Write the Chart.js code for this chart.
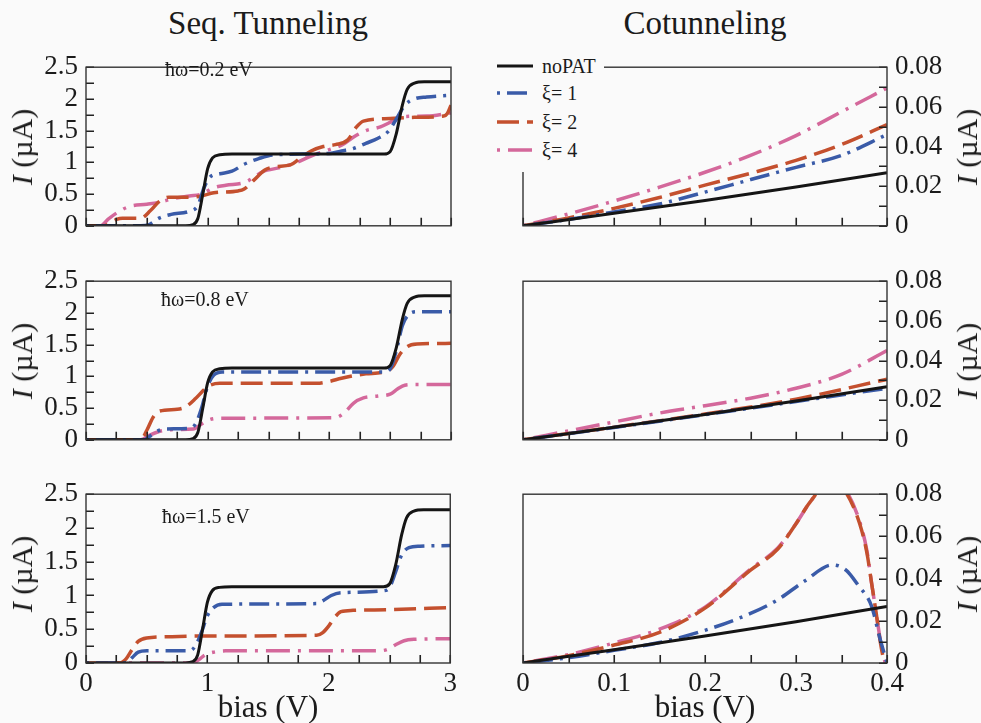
<!DOCTYPE html>
<html lang="en">
<head>
  <meta charset="UTF-8">
  <title>Seq. Tunneling / Cotunneling</title>
  <script src="https://cdn.jsdelivr.net/npm/chart.js@4"></script>
  <style>
    :root {
      --ink: #1b1b1b;
      --bg: #fafafa;
    }
    * { box-sizing: border-box; margin: 0; padding: 0; }
    body {
      background: var(--bg);
      color: var(--ink);
      font-family: 'Liberation Serif', 'DejaVu Serif', serif;
    }
    #fig { position: relative; width: 981px; height: 723px; overflow: hidden; }
    #fig canvas { position: absolute; }
    .txt { position: absolute; white-space: nowrap; line-height: 1; }
    .col-title { font-size: 33px; top: 7px; transform: translateX(-50%); }
    .ytitle { font-size: 30px; transform: translate(-50%, -50%) rotate(-90deg); }
    .xtitle { font-size: 31px; top: 691px; transform: translateX(-50%); }
    .note { font-size: 20px; }
    #legend {
      position: absolute; left: 490px; top: 48px; width: 114px; height: 124px;
      background: var(--bg); font-size: 20px;
    }
    #legend .row { position: absolute; left: 7px; height: 20px; display: flex; align-items: center; }
    #legend svg { display: block; margin-right: 9px; }
  </style>
</head>
<body>
<div id="fig">
  <div class="txt col-title" style="left:268px">Seq. Tunneling</div>
  <div class="txt col-title" style="left:705px">Cotunneling</div>
</div>
<script>
  // ---- bias (V) / current (µA) pairs, one array per curve ----
  const seqNoPAT = [[0,0],[0.82,0],[0.88,0.02],[0.92,0.12],[0.96,0.5],[1.0,0.9],[1.04,1.07],[1.1,1.12],[1.2,1.13],
    [2.45,1.13],[2.5,1.17],[2.55,1.45],[2.6,1.9],[2.64,2.15],[2.7,2.25],[2.78,2.27],[3,2.27]];

  // hw = 0.2 eV
  const seq02_xi1 = [[0,0],[0.45,0],[0.52,0.02],[0.6,0.12],[0.7,0.18],[0.85,0.23],[0.92,0.32],[0.97,0.6],[1.02,0.77],
    [1.1,0.82],[1.2,0.86],[1.3,0.97],[1.42,1.06],[1.55,1.12],[2.0,1.14],[2.1,1.18],[2.2,1.22],[2.3,1.3],[2.4,1.38],
    [2.48,1.48],[2.55,1.68],[2.62,1.9],[2.7,2.0],[2.8,2.03],[3,2.06]];
  const seq02_xi2 = [[0,0],[0.15,0],[0.2,0.05],[0.25,0.1],[0.3,0.12],[0.45,0.12],[0.53,0.24],[0.6,0.38],[0.68,0.45],
    [0.85,0.45],[0.95,0.47],[1.05,0.52],[1.25,0.55],[1.3,0.58],[1.38,0.72],[1.47,0.88],[1.55,0.93],[1.68,0.96],
    [1.75,1.05],[1.85,1.18],[1.95,1.25],[2.05,1.28],[2.15,1.35],[2.22,1.55],[2.28,1.65],[2.5,1.69],[2.7,1.71],
    [2.94,1.73],[2.97,1.77],[3,1.9]];
  const seq02_xi4 = [[0,0],[0.12,0],[0.18,0.1],[0.25,0.2],[0.35,0.3],[0.5,0.34],[0.6,0.37],[0.72,0.43],[0.85,0.47],
    [0.95,0.5],[1.05,0.6],[1.15,0.64],[1.3,0.68],[1.37,0.75],[1.45,0.85],[1.6,0.92],[1.72,0.99],[1.85,1.1],
    [2.0,1.2],[2.1,1.27],[2.2,1.4],[2.3,1.5],[2.42,1.56],[2.52,1.65],[2.6,1.72],[2.8,1.73],[3,1.78]];

  // hw = 0.8 eV
  const seq08_xi1 = [[0,0],[0.48,0],[0.52,0.05],[0.58,0.13],[0.65,0.17],[0.85,0.18],[0.9,0.25],[0.95,0.5],[1.0,0.85],
    [1.05,1.02],[1.12,1.07],[2.45,1.07],[2.5,1.12],[2.55,1.4],[2.6,1.8],[2.65,1.97],[2.72,2.02],[3,2.02]];
  const seq08_xi2 = [[0,0],[0.45,0],[0.5,0.15],[0.55,0.35],[0.6,0.45],[0.75,0.48],[0.82,0.52],[0.9,0.65],[0.95,0.75],
    [1.0,0.84],[1.1,0.89],[1.9,0.89],[2.0,0.92],[2.1,0.97],[2.3,1.04],[2.45,1.07],[2.52,1.15],[2.58,1.35],
    [2.64,1.47],[2.72,1.51],[3,1.52]];
  const seq08_xi4 = [[0,0],[0.45,0],[0.52,0.07],[0.6,0.13],[0.7,0.16],[0.88,0.17],[0.95,0.25],[1.02,0.32],[1.1,0.34],
    [2.05,0.35],[2.12,0.42],[2.2,0.58],[2.28,0.66],[2.4,0.69],[2.5,0.72],[2.56,0.8],[2.62,0.86],[2.7,0.87],[3,0.87]];

  // hw = 1.5 eV
  const seq15_xi1 = [[0,0],[0.33,0],[0.38,0.08],[0.43,0.16],[0.5,0.18],[0.85,0.18],[0.9,0.25],[0.95,0.45],[1.0,0.7],
    [1.05,0.82],[1.12,0.87],[1.9,0.88],[1.95,0.92],[2.02,1.0],[2.1,1.04],[2.45,1.07],[2.5,1.12],[2.55,1.35],
    [2.6,1.6],[2.66,1.71],[2.75,1.73],[3,1.74]];
  const seq15_xi2 = [[0,0],[0.28,0],[0.33,0.06],[0.38,0.2],[0.43,0.32],[0.5,0.37],[0.7,0.39],[1.0,0.4],[1.9,0.41],
    [1.95,0.45],[2.0,0.55],[2.05,0.68],[2.1,0.76],[2.2,0.78],[2.5,0.79],[3,0.82]];
  const seq15_xi4 = [[0,0],[0.88,0],[0.93,0.05],[0.98,0.12],[1.05,0.16],[1.15,0.18],[2.4,0.18],[2.48,0.2],[2.55,0.27],
    [2.62,0.33],[2.7,0.35],[3,0.36]];

  const cotNoPAT = [[0,0],[0.1,0.0063],[0.2,0.0128],[0.3,0.0196],[0.4,0.0268]];

  const cot02_xi1 = [[0,0],[0.05,0.0032],[0.1,0.007],[0.15,0.011],[0.2,0.017],[0.25,0.0233],[0.3,0.0295],
    [0.35,0.0355],[0.4,0.046]];
  const cot02_xi2 = [[0,0],[0.05,0.004],[0.1,0.0088],[0.15,0.0143],[0.2,0.0205],[0.25,0.0265],[0.3,0.033],
    [0.35,0.041],[0.4,0.051]];
  const cot02_xi4 = [[0,0],[0.05,0.006],[0.1,0.0125],[0.15,0.0195],[0.2,0.027],[0.25,0.0355],[0.3,0.0455],
    [0.35,0.0575],[0.4,0.0695]];

  const cot08_xi1 = [[0,0],[0.1,0.0062],[0.2,0.0127],[0.3,0.0193],[0.4,0.026]];
  const cot08_xi2 = [[0,0],[0.1,0.0064],[0.2,0.013],[0.3,0.0205],[0.4,0.0305]];
  const cot08_xi4 = [[0,0],[0.05,0.0045],[0.1,0.009],[0.15,0.0135],[0.2,0.0172],[0.25,0.021],[0.3,0.026],
    [0.35,0.033],[0.4,0.045]];

  const cot15_xi1 = [[0,0],[0.05,0.0025],[0.1,0.006],[0.15,0.0097],[0.2,0.0155],[0.25,0.0235],[0.28,0.03],
    [0.31,0.039],[0.34,0.0465],[0.355,0.044],[0.368,0.037],[0.383,0.027],[0.392,0.012],[0.4,0]];
  const cot15_xi2 = [[0,0],[0.05,0.0035],[0.1,0.0085],[0.15,0.0145],[0.2,0.026],[0.25,0.044],[0.28,0.054],
    [0.3,0.066],[0.315,0.076],[0.34,0.087],[0.356,0.08],[0.37,0.066],[0.378,0.052],[0.383,0.038],[0.388,0.024],
    [0.393,0.009],[0.397,0]];
  const cot15_xi4 = [[0,0],[0.05,0.004],[0.1,0.0095],[0.15,0.016],[0.2,0.0265],[0.25,0.0445],[0.28,0.0545],
    [0.3,0.066],[0.315,0.076],[0.34,0.088],[0.356,0.081],[0.37,0.067],[0.378,0.053],[0.383,0.038],[0.388,0.024],
    [0.393,0.01],[0.398,0]];

  const seriesNames = ['noPAT', 'ξ= 1', 'ξ= 2', 'ξ= 4'];
  const seriesColors = ['#151515', '#3a5ba8', '#c4502e', '#d4689b'];
  const seriesDash = [[], [3, 7, 20, 7], [22, 8], [3, 8, 24, 8]];
  const seriesWidth = [3, 3.5, 3.5, 3.5];

  const hwLabels = ['ħω=0.2 eV', 'ħω=0.8 eV', 'ħω=1.5 eV'];
  const seqRows = [
    [seqNoPAT, seq02_xi1, seq02_xi2, seq02_xi4],
    [seqNoPAT, seq08_xi1, seq08_xi2, seq08_xi4],
    [seqNoPAT, seq15_xi1, seq15_xi2, seq15_xi4]
  ];
  const cotRows = [
    [cotNoPAT, cot02_xi1, cot02_xi2, cot02_xi4],
    [cotNoPAT, cot08_xi1, cot08_xi2, cot08_xi4],
    [cotNoPAT, cot15_xi1, cot15_xi2, cot15_xi4]
  ];

  // ---- layout ----
  const INK = '#1b1b1b';
  const FONT = 'Liberation Serif';
  const ROW_TOP = [57, 271, 484];
  const ROW_H = 179;
  const PAD_T = 22;
  const TICK = 8;
  const fig = document.getElementById('fig');

  // box around the plot area plus short inward tick marks
  function drawFrame(chart, o) {
    const { ctx, chartArea: a } = chart;
    const x = chart.scales.x, y = chart.scales.y;
    ctx.save();
    ctx.setLineDash([]);
    ctx.strokeStyle = '#222';
    ctx.lineWidth = 1.6;
    ctx.beginPath();
    const nx = Math.round((o.xMax - o.xMin) / o.xStep);
    for (let k = 0; k <= nx; k++) {
      const px = Math.round(x.getPixelForValue(o.xMin + k * o.xStep)) + 0.25;
      ctx.moveTo(px, a.bottom);
      ctx.lineTo(px, a.bottom - TICK);
    }
    const right = o.ySide === 'right';
    const edge = right ? a.right : a.left;
    const ny = Math.round((o.yMax - o.yMin) / o.yStep);
    for (let k = 0; k <= ny; k++) {
      const py = Math.round(y.getPixelForValue(o.yMin + k * o.yStep)) + 0.25;
      ctx.moveTo(edge, py);
      ctx.lineTo(right ? edge - TICK : edge + TICK, py);
    }
    ctx.stroke();
    ctx.lineWidth = 1.4;
    ctx.strokeStyle = '#333';
    ctx.strokeRect(a.left, a.top, a.right - a.left, a.bottom - a.top);
    ctx.restore();
  }

  const near = (v, k) => Math.abs(v * k - Math.round(v * k)) < 1e-6;

  function makePanel(o) {
    const padB = o.bottom ? 40 : 22;
    const cv = document.createElement('canvas');
    cv.width = o.width;
    cv.height = PAD_T + ROW_H + padB;
    cv.style.left = o.x + 'px';
    cv.style.top = (o.top - PAD_T) + 'px';
    fig.appendChild(cv);

    const datasets = o.rows.map((data, i) => ({
      label: seriesNames[i],
      data: data,
      borderColor: seriesColors[i],
      borderWidth: seriesWidth[i],
      borderDash: seriesDash[i],
      pointRadius: 0,
      fill: false,
      cubicInterpolationMode: 'monotone'
    }));

    const tickFont = { family: FONT, size: 27 };
    // tick marks come from drawFrame; the grid only sets the label offset
    const hidden = { drawOnChartArea: false, tickLength: -TICK, color: 'rgba(0,0,0,0)' };
    return new Chart(cv, {
      type: 'line',
      data: { datasets },
      plugins: [{ id: 'frame', afterDraw: c => drawFrame(c, o) }],
      options: {
        responsive: false,
        animation: false,
        events: [],
        layout: { padding: { top: PAD_T, left: o.padL, right: o.padR, bottom: 0 } },
        plugins: { legend: { display: false }, tooltip: { enabled: false } },
        scales: {
          x: {
            type: 'linear', min: o.xMin, max: o.xMax, position: 'bottom',
            afterFit: s => { s.height = padB; },
            border: { display: false },
            grid: hidden,
            ticks: {
              stepSize: o.xStep, autoSkip: false, maxRotation: 0, padding: 13,
              font: tickFont, color: INK,
              callback: v => (o.bottom && near(v, o.xMajor)) ? String(+v.toFixed(2)) : ''
            }
          },
          y: {
            type: 'linear', min: o.yMin, max: o.yMax, position: o.ySide,
            afterFit: s => { s.width = o.axisW; },
            border: { display: false },
            grid: hidden,
            ticks: {
              stepSize: o.yStep, autoSkip: false, padding: 16,
              font: tickFont, color: INK,
              callback: v => near(v, o.yMajor) ? (v === 0 ? '0' : o.yFmt(v)) : ''
            }
          }
        }
      }
    });
  }

  ROW_TOP.forEach((top, r) => {
    const bottom = r === 2;
    // sequential tunneling, 0..3 V
    makePanel({
      rows: seqRows[r], top, bottom, x: 0, width: 470, padL: 0, padR: 19, axisW: 86,
      xMin: 0, xMax: 3, xStep: 0.25, xMajor: 1,
      yMin: 0, yMax: 2.5, yStep: 0.25, yMajor: 2, ySide: 'left',
      yFmt: v => String(+v.toFixed(1))
    });
    // cotunneling, 0..0.4 V, axis on the right
    makePanel({
      rows: cotRows[r], top, bottom, x: 500, width: 460, padL: 23, padR: 0, axisW: 73,
      xMin: 0, xMax: 0.4, xStep: 0.05, xMajor: 10,
      yMin: 0, yMax: 0.08, yStep: 0.01, yMajor: 50, ySide: 'right',
      yFmt: v => v.toFixed(2)
    });

    const mid = top + ROW_H / 2;
    [22, 967].forEach(cx => {
      const t = document.createElement('div');
      t.className = 'txt ytitle';
      t.style.left = cx + 'px';
      t.style.top = mid + 'px';
      t.innerHTML = '<i>I</i> (µA)';
      fig.appendChild(t);
    });
  });

  // photon energy notes
  [[165, 59], [161, 289], [162, 506]].forEach(([x, y], i) => {
    const n = document.createElement('div');
    n.className = 'txt note';
    n.style.left = x + 'px';
    n.style.top = y + 'px';
    n.textContent = hwLabels[i];
    fig.appendChild(n);
  });

  [268, 705].forEach(cx => {
    const t = document.createElement('div');
    t.className = 'txt xtitle';
    t.style.left = cx + 'px';
    t.textContent = 'bias (V)';
    fig.appendChild(t);
  });

  // legend box sits over the corner of the top cotunneling panel
  const legend = document.createElement('div');
  legend.id = 'legend';
  [18, 45, 74, 102].forEach((cy, i) => {
    const row = document.createElement('div');
    row.className = 'row';
    row.style.top = (cy - 10) + 'px';
    row.innerHTML =
      `<svg width="36" height="8"><line x1="0" y1="4" x2="36" y2="4" stroke="${seriesColors[i]}"
        stroke-width="${seriesWidth[i]}" stroke-dasharray="${seriesDash[i].join(' ') || 'none'}"/></svg>
       <span>${seriesNames[i]}</span>`;
    legend.appendChild(row);
  });
  fig.appendChild(legend);
</script>
</body>
</html>
